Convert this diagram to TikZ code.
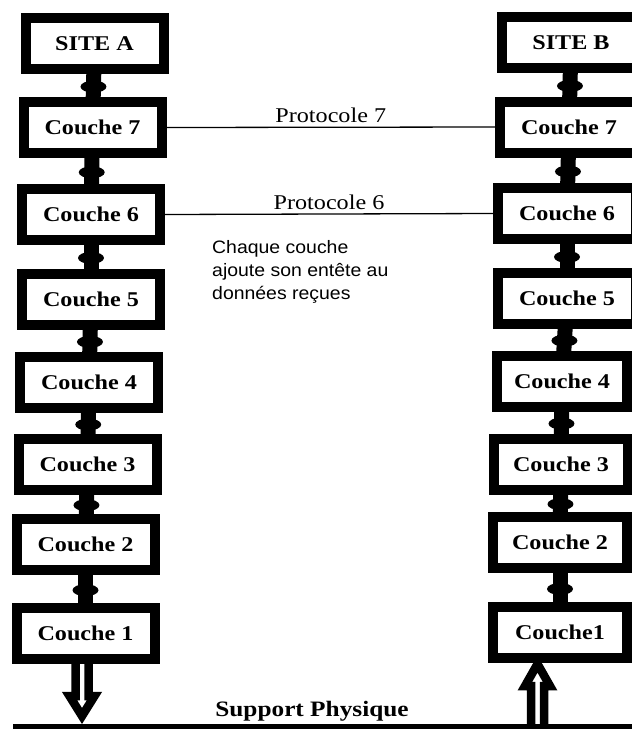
\documentclass[tikz,border=0pt]{standalone}
\usepackage{fontspec}
\setmainfont{Liberation Serif}[FakeStretch=1.15]
\newfontfamily\notefont{Liberation Sans}[FakeStretch=1.08]
\usetikzlibrary{calc,shapes.geometric}

\begin{document}
\begin{tikzpicture}[x=1pt, y=-1pt,
    layer/.style={draw, line width=10pt, minimum width=138pt, minimum height=51pt,
        inner sep=0pt, font=\fontsize{21}{25}\selectfont\bfseries},
    link/.style={line width=15pt, shorten <=-3pt, shorten >=-3pt},
    knot/.style={ellipse, fill=black, minimum width=26pt, minimum height=12pt, inner sep=0pt},
    proto/.style={line width=1.3pt},
    hollow/.style={line width=8.5pt, fill=white},
    lbl/.style={font=\fontsize{21}{25}\selectfont, inner sep=3.5pt}]

        \clip (0,0) rectangle (632,729);
        \fill[white] (0,0) rectangle (632,729);

        % Site A stack
        \node[layer] (sa) at (94.5,43.5) {SITE A};
        \node[layer] (c7a) at (92.5,127.5) {Couche 7};
        \node[layer] (c6a) at (91,214.5) {Couche 6};
        \node[layer] (c5a) at (91,299) {Couche 5};
        \node[layer] (c4a) at (89,382.5) {Couche 4};
        \node[layer] (c3a) at (87.5,464.5) {Couche 3};
        \node[layer] (c2a) at (85.5,544) {Couche 2};
        \node[layer] (c1a) at (85.5,633.5) {Couche 1};

        % Site B stack
        \node[layer] (sb) at (571,42.5) {SITE B};
        \node[layer] (c7b) at (569,127) {Couche 7};
        \node[layer] (c6b) at (567,213.5) {Couche 6};
        \node[layer] (c5b) at (567,298) {Couche 5};
        \node[layer, minimum width=130pt] (c4b) at (562,381) {Couche 4};
        \node[layer, minimum width=134pt] (c3b) at (561,464) {Couche 3};
        \node[layer, minimum width=134pt] (c2b) at (560,542.5) {Couche 2};
        \node[layer, minimum width=134pt] (c1b) at (560,632.5) {Couche1};

        % Links between layers
        \foreach \up/\dn in {sa/c7a, c7a/c6a, c6a/c5a, c5a/c4a, c4a/c3a, c3a/c2a, c2a/c1a,
                             sb/c7b, c7b/c6b, c6b/c5b, c5b/c4b, c4b/c3b, c3b/c2b, c2b/c1b}
            \draw[link] (\up) -- node[knot, pos=0.55] {} (\dn);

        % Peer protocols
        \draw[proto] (c7a.east) -- node[lbl, above] {Protocole 7} (c7b.west);
        \draw[proto] (c6a.east) -- node[lbl, above] {Protocole 6} (c6b.west);

        % Note
        \node[anchor=north west, inner sep=0pt, align=left,
              font=\notefont\fontsize{18}{23}\selectfont] (note) at (212,240)
            {Chaque couche\\ajoute son entête au\\données reçues};

        % Physical medium
        \coordinate (busL) at (13,727);
        \coordinate (busR) at (640,727);
        \coordinate (downtip) at (82,716);
        \coordinate (uptip) at (537.5,664);

        \draw[hollow] ($(c1a.south -| downtip)+(-6.5,0)$) -- ($(downtip)+(-6.5,-20)$)
            -- ($(downtip)+(-12.5,-20)$) -- (downtip) -- ($(downtip)+(12.5,-20)$)
            -- ($(downtip)+(6.5,-20)$) -- ($(c1a.south -| downtip)+(6.5,0)$);
        \draw[hollow] ($(busL -| uptip)+(-6.5,0)$) -- ($(uptip)+(-6.5,22)$)
            -- ($(uptip)+(-12.5,22)$) -- (uptip) -- ($(uptip)+(12.5,22)$)
            -- ($(uptip)+(6.5,22)$) -- ($(busL -| uptip)+(6.5,0)$);

        \draw[line width=6pt] (busL) -- (busR);
        \node[anchor=base, font=\fontsize{22}{26}\selectfont\bfseries] (sup) at (312,716) {Support Physique};

    \end{tikzpicture}
\end{document}
